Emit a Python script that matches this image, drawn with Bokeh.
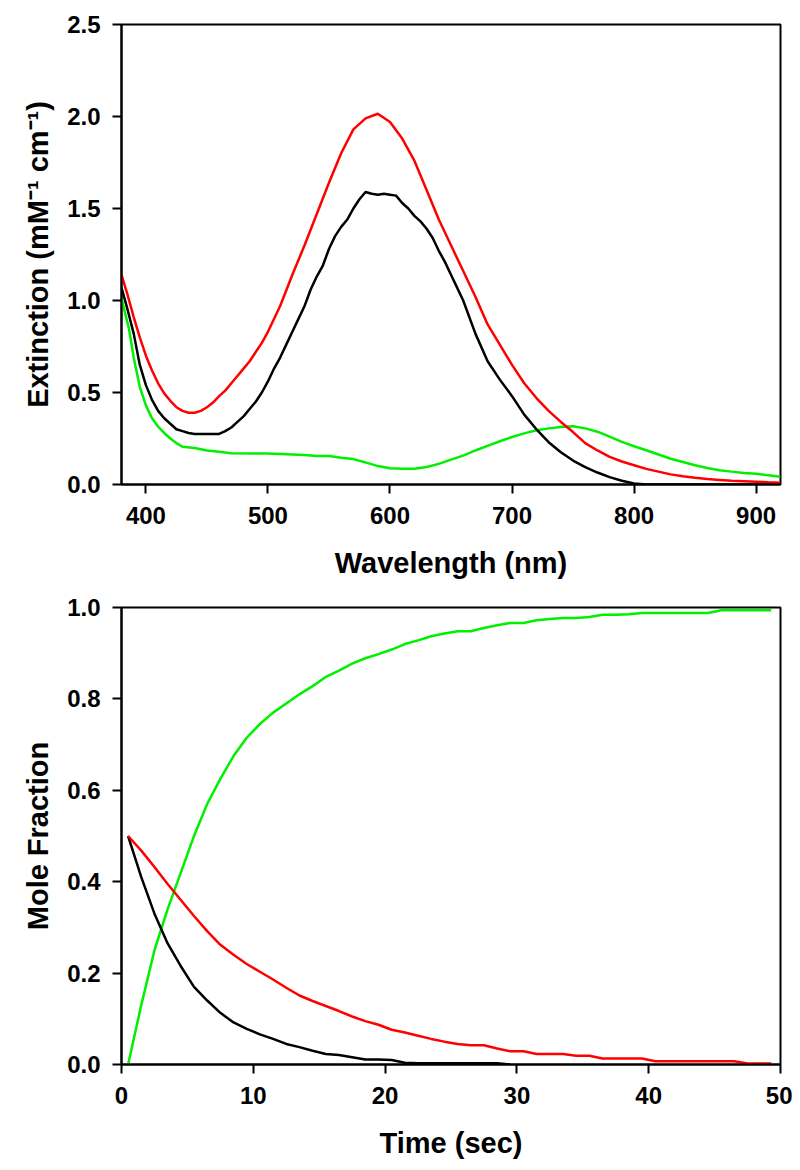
from bokeh.plotting import figure
from bokeh.models import Range1d, FixedTicker, NumeralTickFormatter
from bokeh.layouts import column
from bokeh.embed import file_html
from bokeh.resources import INLINE

# ---- Top panel: extinction spectra ----
wl_red = [380, 385, 390, 395, 400, 405, 410, 415, 420, 425, 430, 435, 440, 445, 450, 455, 460,
          465, 470, 475, 480, 485, 490, 495, 500, 510, 520, 530, 540, 550, 560, 570, 580, 590,
          600, 610, 620, 630, 640, 650, 660, 670, 680, 690, 700, 710, 720, 730, 740, 750, 760,
          770, 780, 790, 800, 810, 820, 830, 840, 850, 860, 870, 880, 890, 900, 910, 920]
ext_red = [1.14, 1.03, 0.91, 0.80, 0.70, 0.62, 0.55, 0.495, 0.455, 0.42, 0.40, 0.39, 0.39, 0.40,
           0.42, 0.445, 0.48, 0.51, 0.55, 0.59, 0.63, 0.67, 0.72, 0.77, 0.83, 0.97, 1.14, 1.30,
           1.47, 1.64, 1.80, 1.93, 1.99, 2.015, 1.97, 1.88, 1.76, 1.60, 1.44, 1.30, 1.16, 1.02,
           0.87, 0.76, 0.65, 0.55, 0.47, 0.40, 0.34, 0.285, 0.225, 0.185, 0.15, 0.125, 0.105,
           0.085, 0.07, 0.055, 0.045, 0.037, 0.03, 0.025, 0.02, 0.018, 0.015, 0.012, 0.01]

wl_black = [380, 385, 390, 395, 400, 405, 410, 415, 420, 425, 430, 435, 440, 450, 460, 465, 470,
            475, 480, 485, 490, 495, 500, 505, 510, 515, 520, 525, 530, 535, 540, 545, 550, 555,
            560, 565, 570, 575, 580, 585, 590, 595, 600, 605, 610, 615, 620, 625, 630, 635, 640,
            645, 650, 655, 660, 670, 680, 690, 700, 710, 720, 730, 740, 750, 760, 770, 780, 790,
            800, 810, 920]
ext_black = [1.07, 0.95, 0.82, 0.65, 0.54, 0.46, 0.40, 0.36, 0.33, 0.30, 0.29, 0.28, 0.275,
             0.275, 0.275, 0.29, 0.31, 0.34, 0.37, 0.41, 0.45, 0.50, 0.56, 0.63, 0.69, 0.76,
             0.83, 0.90, 0.97, 1.06, 1.13, 1.19, 1.28, 1.35, 1.40, 1.44, 1.50, 1.55, 1.59, 1.58,
             1.575, 1.58, 1.575, 1.57, 1.53, 1.50, 1.46, 1.43, 1.39, 1.34, 1.27, 1.21, 1.14,
             1.07, 1.00, 0.82, 0.67, 0.57, 0.48, 0.38, 0.30, 0.23, 0.175, 0.13, 0.095, 0.065,
             0.04, 0.02, 0.005, 0.0, 0.0]

wl_green = [380, 383, 386, 390, 395, 400, 405, 410, 415, 420, 425, 430, 440, 450, 460, 470, 500,
            530, 540, 550, 560, 570, 580, 590, 600, 610, 620, 630, 640, 650, 660, 670, 680, 690,
            700, 710, 720, 730, 740, 750, 760, 770, 780, 790, 800, 810, 820, 830, 840, 850, 860,
            870, 880, 890, 900, 910, 920]
ext_green = [1.01, 0.93, 0.85, 0.69, 0.53, 0.43, 0.36, 0.315, 0.28, 0.25, 0.225, 0.205, 0.198,
             0.185, 0.178, 0.17, 0.168, 0.16, 0.155, 0.155, 0.145, 0.138, 0.12, 0.10, 0.088,
             0.085, 0.085, 0.095, 0.112, 0.135, 0.157, 0.185, 0.21, 0.235, 0.258, 0.278, 0.295,
             0.305, 0.313, 0.317, 0.305, 0.287, 0.26, 0.232, 0.208, 0.186, 0.163, 0.14, 0.122,
             0.105, 0.09, 0.078, 0.07, 0.063, 0.058, 0.05, 0.042]

top_yticks = [0.0, 0.5, 1.0, 1.5, 2.0, 2.5]
top_xticks = [400, 500, 600, 700, 800, 900]

# ---- Bottom panel: mole fraction vs time ----
t = [0.5, 1.5, 2.5, 3.5, 4.5, 5.5, 6.5, 7.5, 8.5, 9.5, 10.5, 11.5, 12.5, 13.5, 14.5, 15.5,
     16.5, 17.5, 18.5, 19.5, 20.5, 21.5, 22.5, 23.5, 24.5, 25.5, 26.5, 27.5, 28.5, 29.5, 30.5,
     31.5, 32.5, 33.5, 34.5, 35.5, 36.5, 37.5, 38.5, 39.5, 40.5, 41.5, 42.5, 43.5, 44.5, 45.5,
     46.5, 47.5, 48.5, 49.3]
frac_red = [0.5, 0.468, 0.432, 0.395, 0.36, 0.325, 0.292, 0.262, 0.24, 0.22, 0.203, 0.186, 0.168,
            0.151, 0.139, 0.128, 0.117, 0.105, 0.095, 0.087, 0.076, 0.07, 0.063, 0.056, 0.05,
            0.045, 0.042, 0.042, 0.035, 0.029, 0.029, 0.023, 0.023, 0.023, 0.019, 0.019, 0.013,
            0.013, 0.013, 0.013, 0.007, 0.007, 0.007, 0.007, 0.007, 0.007, 0.007, 0.002, 0.002,
            0.002]
frac_black = [0.5, 0.41, 0.33, 0.265, 0.215, 0.17, 0.14, 0.113, 0.092, 0.078, 0.066, 0.056,
              0.045, 0.038, 0.03, 0.023, 0.021, 0.016, 0.011, 0.011, 0.01, 0.004, 0.003, 0.003,
              0.003, 0.003, 0.003, 0.003, 0.003, 0.0]
t_black = t[:30]
frac_green = [0.0, 0.13, 0.25, 0.34, 0.42, 0.50, 0.57, 0.625, 0.675, 0.715, 0.745, 0.77, 0.79,
              0.81, 0.828, 0.848, 0.862, 0.877, 0.889, 0.898, 0.908, 0.92, 0.928, 0.937, 0.943,
              0.948, 0.948, 0.955, 0.961, 0.966, 0.966, 0.972, 0.975, 0.977, 0.977, 0.979,
              0.984, 0.984, 0.985, 0.988, 0.988, 0.988, 0.988, 0.988, 0.988, 0.994, 0.994,
              0.994, 0.994, 0.994]
bot_yticks = [0.0, 0.2, 0.4, 0.6, 0.8, 1.0]
bot_xticks = [0, 10, 20, 30, 40, 50]

RED = "#ff0000"
GREEN = "#00f000"
BLACK = "#000000"
FONT = "Liberation Sans"
LW = 2.5


def style(p, xticks, yticks, xlabel, ylabel):
    p.xgrid.visible = False
    p.ygrid.visible = False
    p.outline_line_color = "black"
    p.outline_line_width = 2
    p.outline_line_alpha = 1.0
    p.background_fill_color = "white"
    p.border_fill_color = "white"
    p.xaxis.ticker = FixedTicker(ticks=xticks)
    p.yaxis.ticker = FixedTicker(ticks=yticks)
    p.yaxis.formatter = NumeralTickFormatter(format="0.0")
    p.xaxis.axis_label = xlabel
    p.yaxis.axis_label = ylabel
    for ax in (p.xaxis, p.yaxis):
        ax.axis_line_color = "black"
        ax.axis_line_width = 2
        ax.major_tick_line_color = "black"
        ax.major_tick_line_width = 2
        ax.major_tick_out = 9
        ax.major_tick_in = 0
        ax.minor_tick_line_color = None
        ax.major_label_text_font = FONT
        ax.major_label_text_font_style = "bold"
        ax.major_label_text_font_size = "24px"
        ax.major_label_text_color = "black"
        ax.axis_label_text_font = FONT
        ax.axis_label_text_font_style = "bold"
        ax.axis_label_text_font_size = "29px"
        ax.axis_label_text_color = "black"
    p.xaxis.major_label_standoff = 13
    p.yaxis.major_label_standoff = 12
    p.xaxis.axis_label_standoff = 20
    p.yaxis.axis_label_standoff = 10


p1 = figure(width=792, height=588, output_backend="svg", toolbar_location=None,
            x_range=Range1d(380, 920), y_range=Range1d(0, 2.5),
            min_border_left=121, min_border_right=12, min_border_top=24,
            min_border_bottom=104)
style(p1, top_xticks, top_yticks, "Wavelength (nm)", "Extinction (mM\u207b\u00b9 cm\u207b\u00b9)")
p1.line(wl_green, ext_green, line_color=GREEN, line_width=LW)
p1.line(wl_black, ext_black, line_color=BLACK, line_width=LW)
p1.line(wl_red, ext_red, line_color=RED, line_width=LW)

p2 = figure(width=792, height=574, output_backend="svg", toolbar_location=None,
            x_range=Range1d(0, 50), y_range=Range1d(0, 1.0),
            min_border_left=121, min_border_right=12, min_border_top=19,
            min_border_bottom=98)
style(p2, bot_xticks, bot_yticks, "Time (sec)", "Mole Fraction")
p2.line(t, frac_green, line_color=GREEN, line_width=LW)
p2.line(t_black, frac_black, line_color=BLACK, line_width=LW)
p2.line(t, frac_red, line_color=RED, line_width=LW)

layout = column(p1, p2, spacing=0)
open("out.html", "w").write(file_html(layout, INLINE))
